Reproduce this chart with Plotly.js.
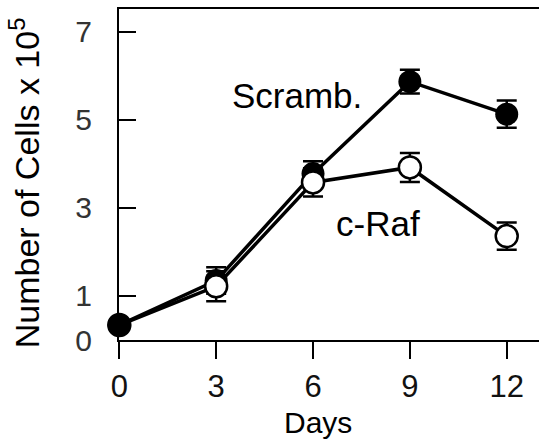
<!DOCTYPE html>
<html>
<head>
<meta charset="utf-8">
<script src="https://cdn.plot.ly/plotly-3.0.1.min.js"></script>
<style>html,body{margin:0;padding:0;background:#fff;}#chart{width:539px;height:444px;}</style>
</head>
<body>
<div id="chart"></div>
<script>
const days = [0, 3, 6, 9, 12];
const scramb = [0.34, 1.35, 3.78, 5.87, 5.13];
const scrambErr = [0.05, 0.30, 0.28, 0.27, 0.31];
const cRaf = [0.34, 1.22, 3.58, 3.92, 2.36];
const cRafErr = [0.05, 0.34, 0.32, 0.33, 0.31];
const xTicks = [0, 3, 6, 9, 12];
const yTicks = [0, 1, 3, 5, 7];
const seriesLabels = ['Scramb.', 'c-Raf'];
const xTitle = 'Days';
const yTitle = 'Number of Cells x 10<sup>5</sup>';

const FONT = 'Liberation Sans, Arial, sans-serif';

const traces = [
  {
    x: days, y: scramb, type: 'scatter', mode: 'lines+markers', name: seriesLabels[0],
    line: {color: '#000', width: 3.5},
    marker: {symbol: 'circle', size: 23, color: '#000', line: {width: 0}},
    error_y: {type: 'data', array: scrambErr, visible: true, color: '#000', thickness: 2.5, width: 10},
    cliponaxis: false
  },
  {
    x: days, y: cRaf, type: 'scatter', mode: 'lines+markers', name: seriesLabels[1],
    line: {color: '#000', width: 3.5},
    marker: {symbol: 'circle', size: 22, color: '#fff', line: {width: 2.5, color: '#000'}},
    error_y: {type: 'data', array: cRafErr, visible: true, color: '#000', thickness: 2.5, width: 10},
    cliponaxis: false
  },
  {
    x: days.slice(0, 1), y: scramb.slice(0, 1), type: 'scatter', mode: 'markers',
    marker: {symbol: 'circle', size: 23, color: '#000', line: {width: 0}},
    cliponaxis: false, hoverinfo: 'skip'
  }
];

const layout = {
  width: 539, height: 444,
  margin: {l: 119, r: 0, t: 9, b: 104},
  paper_bgcolor: '#fff', plot_bgcolor: '#fff',
  showlegend: false,
  font: {family: FONT, color: '#000'},
  xaxis: {
    range: [-0.01, 13.0],
    tickvals: xTicks, ticktext: xTicks.map(String),
    ticks: 'outside', ticklen: 17, tickwidth: 2, tickcolor: '#000',
    showline: true, linecolor: '#000', linewidth: 2, mirror: true,
    showgrid: false, zeroline: false,
    tickfont: {family: FONT, size: 31, color: '#111'},
    ticklabelstandoff: 1
  },
  yaxis: {
    range: [0, 7.52],
    tickvals: yTicks, ticktext: yTicks.map(String),
    ticks: 'inside', ticklen: 17, tickwidth: 2, tickcolor: '#000',
    showline: true, linecolor: '#000', linewidth: 2, mirror: false,
    showgrid: false, zeroline: false,
    tickfont: {family: FONT, size: 30, color: '#333'},
    ticklabelstandoff: 19
  },
  annotations: [
    {text: seriesLabels[0], x: 5.49, y: 5.56, xref: 'x', yref: 'y', showarrow: false,
     font: {family: FONT, size: 35, color: '#000'}, xanchor: 'center', yanchor: 'middle'},
    {text: seriesLabels[1], x: 8.02, y: 2.65, xref: 'x', yref: 'y', showarrow: false,
     font: {family: FONT, size: 35, color: '#000'}, xanchor: 'center', yanchor: 'middle'},
    {text: xTitle, x: 6.15, y: -0.249, xref: 'x', yref: 'paper', showarrow: false,
     font: {family: FONT, size: 30, color: '#000'}, xanchor: 'center', yanchor: 'middle'},
    {text: yTitle, x: 0, y: 3.56, xref: 'paper', yref: 'y', xshift: -95, showarrow: false,
     textangle: -90, font: {family: FONT, size: 34, color: '#000'}, xanchor: 'center', yanchor: 'middle'}
  ]
};

Plotly.newPlot('chart', traces, layout, {staticPlot: true, displayModeBar: false});
</script>
</body>
</html>
